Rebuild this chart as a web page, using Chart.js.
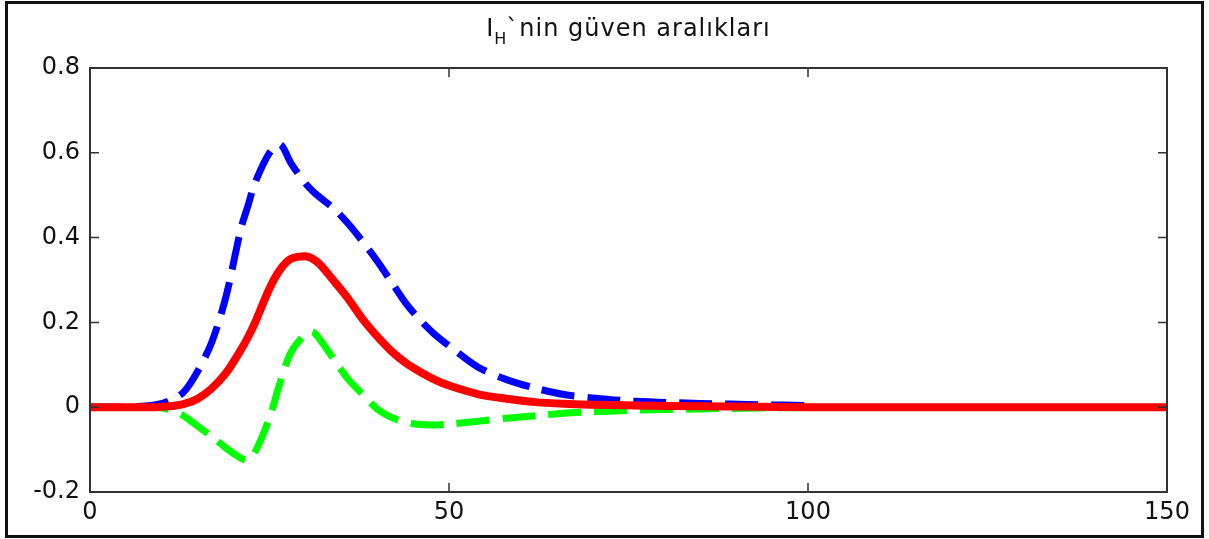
<!DOCTYPE html>
<html>
<head>
<meta charset="utf-8">
<script src="https://cdn.jsdelivr.net/npm/chart.js@4/dist/chart.umd.min.js"></script>
<style>
  body { margin: 0; background: #fff; }
  #wrap { position: relative; width: 1209px; height: 539px; }
  #frame {
    position: absolute; left: 5px; top: 1px; width: 1199px; height: 537px;
    box-sizing: border-box; border: 3px solid #111; pointer-events: none;
  }
  #title {
    position: absolute; left: 90px; width: 1077px; top: 16px;
    text-align: center; font: 24px "DejaVu Sans", sans-serif; line-height: 24px;
    letter-spacing: 1px; color: #111;
  }
  #title sub { font-size: 16px; vertical-align: -8px; line-height: 0; letter-spacing: 0; }
</style>
</head>
<body>
<div id="wrap">
  <canvas id="ciChart" width="1209" height="539"></canvas>
  <div id="title">I<sub>H</sub>`nin güven aralıkları</div>
  <div id="frame"></div>
</div>
<script>
// sample positions (x axis)
const xs = [0, 5, 9, 11, 13, 15, 17, 19, 21, 22, 23, 25, 26.5, 28, 30, 31, 32, 34, 36, 38, 40, 42, 44, 46, 48, 50, 54, 58, 62, 66, 70, 76, 85, 93, 100];

// upper bound (blue dashed)
const upper = [0, 0, 0.005, 0.015, 0.035, 0.085, 0.155, 0.265, 0.42, 0.475, 0.53, 0.6, 0.62, 0.575, 0.528, 0.51, 0.495, 0.468, 0.432, 0.39, 0.345, 0.295, 0.245, 0.205, 0.172, 0.145, 0.095, 0.065, 0.045, 0.03, 0.022, 0.014, 0.009, 0.006, 0.004];

// estimate (red solid), continues flat to 150
const meanXs = xs.concat([150]);
const mean = [0, 0, 0, 0.002, 0.007, 0.02, 0.045, 0.082, 0.135, 0.165, 0.2, 0.28, 0.325, 0.35, 0.356, 0.35, 0.337, 0.297, 0.255, 0.207, 0.167, 0.132, 0.104, 0.083, 0.065, 0.051, 0.031, 0.02, 0.012, 0.008, 0.006, 0.004, 0.002, 0.001, 0, 0];

// lower bound (green dashed)
const lower = [0, 0, 0, -0.005, -0.02, -0.045, -0.07, -0.097, -0.12, -0.125, -0.105, -0.025, 0.06, 0.13, 0.172, 0.178, 0.16, 0.112, 0.065, 0.03, -0.004, -0.024, -0.036, -0.041, -0.042, -0.04, -0.033, -0.026, -0.02, -0.014, -0.011, -0.007, -0.004, -0.002, -0.001];

const xTicks = [0, 50, 100, 150];
const yTicks = [-0.2, 0, 0.2, 0.4, 0.6, 0.8];

const toPts = (xv, yv) => xv.map((x, i) => ({ x: x, y: yv[i] }));

// matlab style box with inward ticks on all four sides
const boxPlugin = {
  id: "box",
  afterDatasetsDraw(chart) {
    const { ctx, chartArea: a, scales } = chart;
    ctx.save();
    ctx.strokeStyle = "#333";
    ctx.lineWidth = 2;
    ctx.strokeRect(a.left, a.top, a.right - a.left, a.bottom - a.top);
    ctx.lineWidth = 1.5;
    ctx.beginPath();
    xTicks.forEach((v) => {
      const px = scales.x.getPixelForValue(v);
      ctx.moveTo(px, a.bottom); ctx.lineTo(px, a.bottom - 9);
      ctx.moveTo(px, a.top); ctx.lineTo(px, a.top + 9);
    });
    yTicks.forEach((v) => {
      const py = scales.y.getPixelForValue(v);
      ctx.moveTo(a.left, py); ctx.lineTo(a.left + 9, py);
      ctx.moveTo(a.right, py); ctx.lineTo(a.right - 9, py);
    });
    ctx.stroke();
    ctx.restore();
  },
};

const tickFont = { family: "'DejaVu Sans', sans-serif", size: 24 };

new Chart(document.getElementById("ciChart"), {
  type: "line",
  data: {
    datasets: [
      {
        label: "ortalama",
        data: toPts(meanXs, mean),
        borderColor: "#ff0000",
        borderWidth: 8,
        order: 0,
      },
      {
        label: "üst sınır",
        data: toPts(xs, upper),
        borderColor: "#0000ff",
        borderWidth: 7,
        borderDash: [33, 13],
        borderCapStyle: "butt",
        order: 1,
      },
      {
        label: "alt sınır",
        data: toPts(xs, lower),
        borderColor: "#00ff00",
        borderWidth: 7,
        borderDash: [33, 13],
        borderCapStyle: "butt",
        order: 2,
      },
    ],
  },
  options: {
    responsive: false,
    animation: false,
    devicePixelRatio: 1,
    layout: { padding: { top: 68, right: 42, left: 0, bottom: 0 } },
    elements: {
      point: { radius: 0 },
      line: { tension: 0.3, borderJoinStyle: "round", fill: false },
    },
    plugins: { legend: { display: false }, title: { display: false }, tooltip: { enabled: false } },
    scales: {
      x: {
        type: "linear",
        min: 0,
        max: 150,
        afterFit: (s) => { s.height = 47; },
        afterBuildTicks: (s) => { s.ticks = xTicks.map((v) => ({ value: v })); },
        grid: { display: false, drawTicks: false },
        border: { display: false },
        ticks: { font: tickFont, color: "#111", padding: 6, maxRotation: 0 },
      },
      y: {
        min: -0.2,
        max: 0.8,
        afterFit: (s) => { s.width = 90; },
        afterBuildTicks: (s) => { s.ticks = yTicks.map((v) => ({ value: v })); },
        grid: { display: false, drawTicks: false },
        border: { display: false },
        ticks: {
          font: tickFont,
          color: "#111",
          padding: 10,
          callback: (v) => String(Number(v.toFixed(1))),
        },
      },
    },
  },
  plugins: [boxPlugin],
});
</script>
</body>
</html>
